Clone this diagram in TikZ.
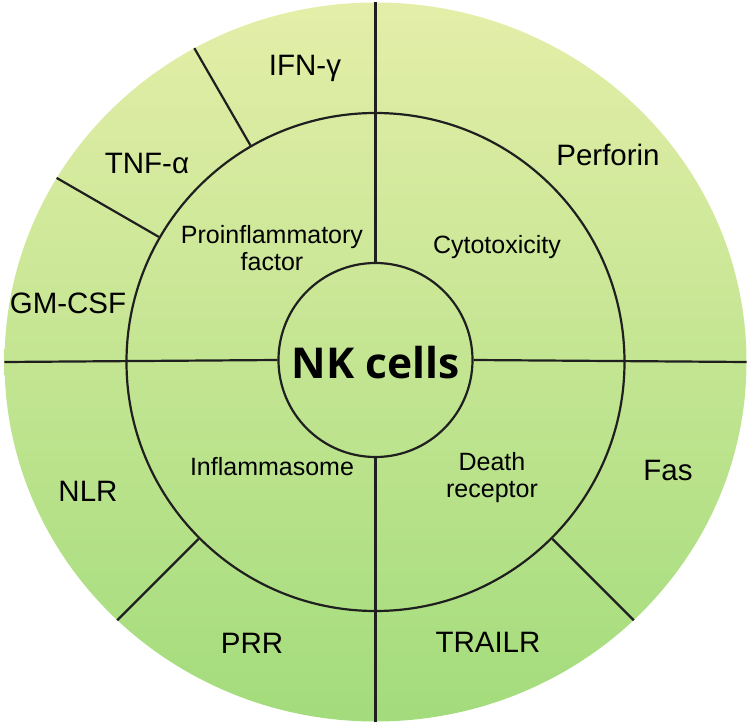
\documentclass[tikz,border=0pt]{standalone}
\usepackage{fontspec}
\setmainfont{Liberation Sans}
\newfontfamily\nkfont{Open Sans}
\usetikzlibrary{shapes.geometric}

\definecolor{ringtop}{RGB}{228,238,168}
\definecolor{ringbot}{RGB}{163,220,124}

\begin{document}
\begin{tikzpicture}[x=1pt, y=1pt,
    ring/.style ={draw=black!88, line width=2.2pt},
    spoke/.style ={draw=black!88, line width=2.2pt},
    outerlabel/.style ={font=\fontsize{29.5}{32}\selectfont, text height=21pt, text depth=0pt, inner sep=0pt},
    innerlabel/.style ={font=\fontsize{25}{27}\selectfont, align=center, inner sep=0pt}]
   \useasboundingbox (-375.5,-366) rectangle (374.5,362);
   \node[ellipse, minimum width=742pt, minimum height=719pt, inner sep=0pt,
         top color=ringtop, bottom color=ringbot] (outer) at (0,0) {};
   \node[circle, ring, minimum size=498pt, inner sep=0pt] (mid) at (0,0) {};
   \node[circle, ring, minimum size=194pt, inner sep=0pt] (core) at (0,2) {};
   \node (nk) at (0,-1) [font=\nkfont\bfseries\fontsize{42.5}{46}\selectfont, inner sep=0pt] {NK cells};
   \draw[spoke] (core.north) to (outer.north);
   \draw[spoke] (core.south) to (outer.south);
   \draw[spoke] (core.west) to (outer.west);
   \draw[spoke] (core.east) to (outer.east);
   \draw[spoke] (mid.120) to (outer.120);
   \draw[spoke] (mid.150) to (outer.150);
   \draw[spoke] (mid.225) to (outer.225);
   \draw[spoke] (mid.-45) to (outer.-45);
   \node[innerlabel] (proinf) at (-103.5,114) {Proinflammatory\\factor};
   \node[innerlabel] (cyto) at (121.5,115) {Cytotoxicity};
   \node[innerlabel] (inflam) at (-103.5,-105) {Inflammasome};
   \node[innerlabel] (death) at (116.5,-116) {Death\\receptor};
   \node[outerlabel] (ifn) at (-70.5,297) {IFN-γ};
   \node[outerlabel] (tnf) at (-228.5,199) {TNF-α};
   \node[outerlabel] (gmcsf) at (-307.5,59) {GM-CSF};
   \node[outerlabel] (perf) at (232.5,207) {Perforin};
   \node[outerlabel] (fas) at (292.5,-108) {Fas};
   \node[outerlabel] (trail) at (112.5,-280) {TRAILR};
   \node[outerlabel] (prr) at (-123.5,-281) {PRR};
   \node[outerlabel] (nlr) at (-287.5,-129) {NLR};
 \end{tikzpicture}
\end{document}
